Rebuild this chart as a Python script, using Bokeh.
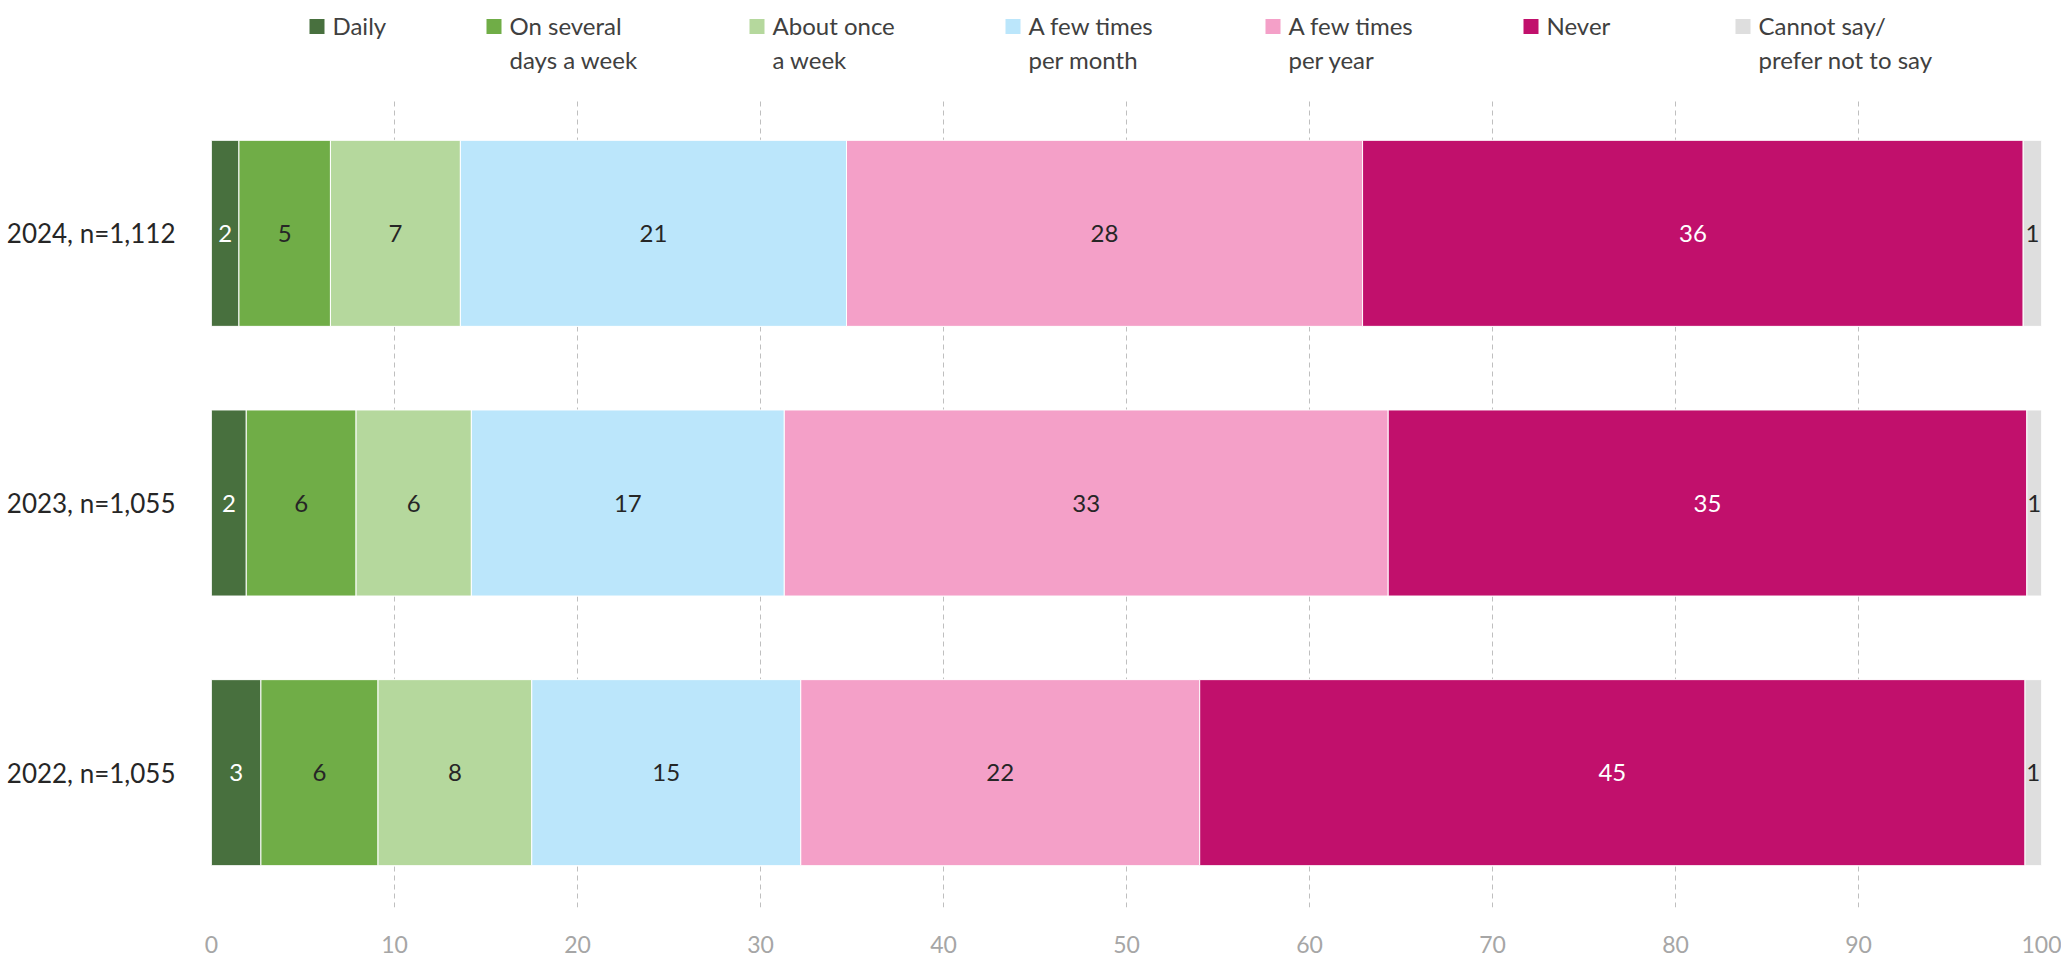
from bokeh.plotting import figure
from bokeh.layouts import column
from bokeh.models import ColumnDataSource, FactorRange, Range1d, FixedTicker
from bokeh.core.properties import value
from bokeh.embed import file_html
from bokeh.resources import INLINE

# ---------------- data ----------------
years = ["2022, n=1,055", "2023, n=1,055", "2024, n=1,112"]
series_names = ["Daily", "On several\ndays a week", "About once\na week",
                "A few times\nper month", "A few times\nper year", "Never",
                "Cannot say/\nprefer not to say"]
daily = [2.7, 1.9, 1.5]
several_days = [6.4, 6.0, 5.0]
once_week = [8.4, 6.3, 7.1]
few_month = [14.7, 17.1, 21.1]
few_year = [21.8, 33.0, 28.2]
never = [45.1, 34.9, 36.1]
cannot_say = [0.9, 0.8, 1.0]
x_ticks = [0, 10, 20, 30, 40, 50, 60, 70, 80, 90, 100]

series = [daily, several_days, once_week, few_month, few_year, never, cannot_say]
keys = ["s_daily", "s_several", "s_once", "s_month", "s_peryear", "s_never", "s_cannot"]

# ---------------- styles ----------------
colors = ["#48703E", "#70AD47", "#B5D89D", "#BBE6FB", "#F4A0C8", "#C1106C", "#DEDEDE"]
label_colors = ["white", "#262626", "#262626", "#262626", "#262626", "white", "#262626"]
FONT = "Lato"
W = 2061
LEFT, RIGHT = 211, 20

# ---------------- main chart ----------------
data = {"cat": years}
for k, s in zip(keys, series):
    data[k] = s
src = ColumnDataSource(data)

p = figure(width=W, height=868, y_range=FactorRange(*years), x_range=Range1d(0, 100),
           output_backend="svg", toolbar_location=None,
           min_border_left=LEFT, min_border_right=RIGHT, min_border_top=0, min_border_bottom=59)
p.hbar_stack(keys, y="cat", height=0.69, color=colors, source=src,
             line_color="white", line_width=1)

# value labels
lx, ly, lt, lc = [], [], [], []
for i, y in enumerate(years):
    left = 0.0
    for j, s in enumerate(series):
        v = s[i]
        lx.append(left + v / 2)
        ly.append(y)
        lt.append(str(int(v + 0.5)))
        lc.append(label_colors[j])
        left += v
p.text(x=lx, y=ly, text=lt, text_color=lc, text_align="center", text_baseline="middle",
       text_font=value(FONT), text_font_size="24px")

p.xaxis.ticker = FixedTicker(ticks=x_ticks)
p.xaxis.axis_line_color = None
p.xaxis.major_tick_line_color = None
p.xaxis.minor_tick_line_color = None
p.xaxis.major_label_text_color = "#A6A6A6"
p.xaxis.major_label_text_font = FONT
p.xaxis.major_label_text_font_size = "23px"
p.xaxis.major_label_standoff = 22

p.yaxis.axis_line_color = None
p.yaxis.major_tick_line_color = None
p.yaxis.minor_tick_line_color = None
p.yaxis.major_label_text_color = "#262626"
p.yaxis.major_label_text_font = FONT
p.yaxis.major_label_text_font_size = "26px"
p.yaxis.major_label_standoff = 30

p.xgrid.grid_line_color = "#BFBFBF"
p.xgrid.grid_line_dash = "5 4"
p.xgrid.grid_line_width = 1
p.ygrid.grid_line_color = None
p.outline_line_color = None

# ---------------- legend (page-pixel coordinates) ----------------
leg = figure(width=W, height=98, x_range=Range1d(LEFT, W - RIGHT), y_range=Range1d(98, 0),
             output_backend="svg", toolbar_location=None,
             x_axis_location=None, y_axis_location=None, min_border=0,
             min_border_left=LEFT, min_border_right=RIGHT)
leg.grid.grid_line_color = None
leg.outline_line_color = None
leg_left = [309, 486, 749, 1005, 1265, 1523, 1735]
leg_sq_x = [x + 7.5 for x in leg_left]
leg.scatter(x=leg_sq_x, y=[26] * 7, marker="square", size=15, color=colors, line_color=None)
leg.text(x=[x + 23 for x in leg_left], y=[10] * 7, text=series_names,
         text_color="#404040", text_font=value(FONT), text_font_size="24px",
         text_align="left", text_baseline="top", text_line_height=1.2)

layout = column(leg, p, spacing=0)
open("out.html", "w").write(file_html(layout, INLINE))
